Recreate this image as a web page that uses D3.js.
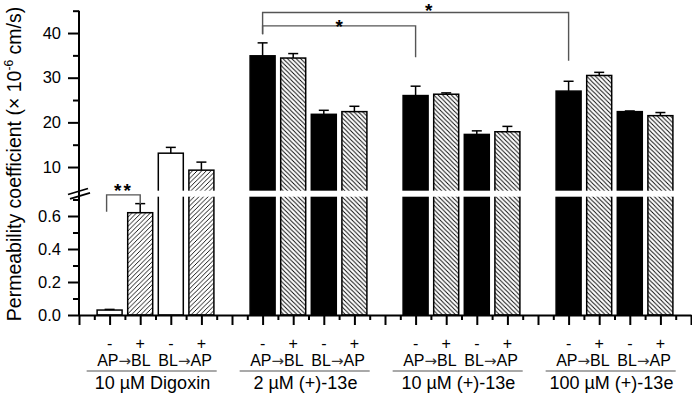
<!DOCTYPE html>
<html>
<head>
<meta charset="utf-8">
<script src="https://cdn.jsdelivr.net/npm/d3@7"></script>
<style>
  body { margin: 0; background: #fff; }
  svg { display: block; font-family: Arial, "Liberation Sans", sans-serif; }
</style>
</head>
<body>
<svg id="chart" width="692" height="398"></svg>
<script>
// data
const groups = ["10 µM Digoxin", "2 µM (+)-13e", "10 µM (+)-13e", "100 µM (+)-13e"];
const directions = [["AP", "BL"], ["BL", "AP"]];
const signs = ["-", "+"];
const values = [
  [0.03, 0.62, 13.1, 9.3],
  [34.9, 34.4, 21.8, 22.4],
  [26.0, 26.3, 17.3, 17.9],
  [27.0, 30.5, 22.4, 21.5]
];
const errors = [
  [0.004, 0.055, 1.3, 1.8],
  [2.9, 1.0, 0.9, 1.2],
  [2.1, 0.3, 0.8, 1.2],
  [2.2, 0.7, 0.15, 0.7]
];
const upperTicks = [10, 20, 30, 40];
const upperMinor = [15, 25, 35, 45];
const lowerTicks = [0, 0.2, 0.4, 0.6];
const lowerMinor = [0.1, 0.3, 0.5, 0.7];
// significance brackets: [group, bar] pairs, heights in data units
const sigs = [
  {a: [0, 0], b: [0, 1], label: "**", scale: "lower", level: 0.728, legA: 0.626, legB: 0.673, dx: 0, dy: 2},
  {a: [1, 0], b: [2, 0], label: "*", scale: "upper", level: 41.6, legA: 39.7, legB: 34.6, dx: 0, dy: 7},
  {a: [1, 0], b: [3, 0], label: "*", scale: "upper", level: 44.6, legA: 39.7, legB: 33.8, dx: 13, dy: 5}
];

const svg = d3.select("#chart");
const axisY = 315;
const x = d3.scaleLinear().domain([0, 20]).range([79, 691]);
const yU = d3.scaleLinear().domain([4.7, 45]).range([190.7, 10.7]);
const yL = d3.scaleLinear().domain([0, 0.717]).range([axisY, 196.7]);
const cut = 0.717;
const yv = v => v > cut ? yU(v) : yL(v);
const slot = (gi, j) => gi * 5 + j + 1;
const barW = 25;

// hatch patterns
const defs = svg.append("defs");
defs.append("pattern").attr("id", "fwd").attr("patternUnits", "userSpaceOnUse")
  .attr("width", 4.6).attr("height", 4.6)
  .append("path").attr("d", "M-1,1 l2,-2 M0,4.6 l4.6,-4.6 M3.6,5.6 l2,-2")
  .attr("stroke", "#000").attr("stroke-width", 0.9);
defs.append("pattern").attr("id", "bwd").attr("patternUnits", "userSpaceOnUse")
  .attr("width", 4.4).attr("height", 4.4)
  .append("path").attr("d", "M-1,3.4 l2,2 M0,0 l4.4,4.4 M3.4,-1 l2,2")
  .attr("stroke", "#000").attr("stroke-width", 0.9);

const bars = [];
values.forEach((row, gi) => row.forEach((v, j) => {
  const plus = j % 2 === 1;
  bars.push({
    gi, j, v, e: errors[gi][j], s: slot(gi, j),
    fill: plus ? (gi === 0 ? "url(#fwd)" : "url(#bwd)") : (gi === 0 ? "#fff" : "#000")
  });
}));

// bars
svg.append("g").selectAll("rect").data(bars).join("rect")
  .attr("x", d => x(d.s) - barW / 2)
  .attr("width", barW)
  .attr("y", d => yv(d.v))
  .attr("height", d => axisY - yv(d.v))
  .attr("fill", d => d.fill)
  .attr("stroke", "#000")
  .attr("stroke-width", 1.5);

// white gap across the break
svg.append("rect").attr("x", 84).attr("width", 608)
  .attr("y", yU.range()[0]).attr("height", yL.range()[1] - yU.range()[0])
  .attr("fill", "#fff");

// error bars
const eb = svg.append("g").attr("stroke", "#000").attr("stroke-width", 1.5);
bars.forEach(d => {
  const top = yv(d.v + d.e);
  eb.append("line").attr("x1", x(d.s)).attr("x2", x(d.s)).attr("y1", yv(d.v)).attr("y2", top);
  eb.append("line").attr("x1", x(d.s) - 5).attr("x2", x(d.s) + 5).attr("y1", top).attr("y2", top);
});

// x axis
const xa = svg.append("g").attr("transform", `translate(0,${axisY})`);
xa.call(d3.axisBottom(x).tickValues(d3.range(0, 21)).tickSize(10).tickSizeOuter(0).tickFormat(""));
xa.append("g").call(d3.axisBottom(x).tickValues(d3.range(0.5, 20, 1)).tickSize(5).tickFormat(""))
  .call(g => g.select(".domain").remove());
xa.selectAll("path, line").attr("stroke", "#000").attr("stroke-width", 2);

// y axis (two segments)
const ya = svg.append("g").attr("transform", `translate(${x(0)},0)`);
ya.append("line").attr("x1", 0).attr("x2", 0).attr("y1", yU(45)).attr("y2", axisY)
  .attr("stroke", "#000").attr("stroke-width", 2);
[[yU, upperTicks, upperMinor, d3.format("d")], [yL, lowerTicks, lowerMinor, d3.format(".1f")]]
  .forEach(([sc, maj, min, fmt]) => {
    ya.append("g").call(d3.axisLeft(sc).tickValues(maj).tickSize(11).tickPadding(7).tickFormat(fmt))
      .call(g => g.select(".domain").remove());
    ya.append("g").call(d3.axisLeft(sc).tickValues(min).tickSize(6).tickFormat(""))
      .call(g => g.select(".domain").remove());
  });
ya.selectAll("line").attr("stroke", "#000").attr("stroke-width", 2);
ya.selectAll("text").attr("font-size", 16.5).attr("fill", "#000")
  .attr("font-family", "Arial, 'Liberation Sans', sans-serif");

// break marks
const brk = svg.append("g").attr("stroke", "#000").attr("stroke-width", 1.8);
brk.append("line").attr("x1", x(0) - 11).attr("y1", 194.5).attr("x2", x(0) + 9).attr("y2", 188.5);
brk.append("line").attr("x1", x(0) - 9).attr("y1", 198.8).attr("x2", x(0) + 11).attr("y2", 192.8);

// significance brackets
const br = svg.append("g");
sigs.forEach(d => {
  const sc = d.scale === "lower" ? yL : yU;
  const xa1 = x(slot(...d.a)) - (d.scale === "lower" ? 3 : 0);
  const xb1 = x(slot(...d.b));
  br.append("path")
    .attr("d", `M${xa1},${sc(d.legA)}V${sc(d.level)}H${xb1}V${sc(d.legB)}`)
    .attr("fill", "none").attr("stroke", "#555").attr("stroke-width", 1.4);
  br.append("text")
    .attr("x", (xa1 + xb1) / 2 + d.dx)
    .attr("y", sc(d.level) + d.dy)
    .attr("text-anchor", "middle")
    .attr("font-size", 19).attr("font-weight", "bold")
    .attr("letter-spacing", d.label.length > 1 ? 2 : 0)
    .text(d.label);
});

// category labels
const lab = svg.append("g").attr("fill", "#000");
groups.forEach((gname, gi) => {
  [0, 1, 2, 3].forEach(j => {
    lab.append("text").attr("x", x(slot(gi, j))).attr("y", 349)
      .attr("text-anchor", "middle").attr("font-size", 16).text(signs[j % 2]);
  });
  directions.forEach(([from, to], k) => {
    const t = lab.append("text").attr("x", x(slot(gi, 2 * k) + 0.5) - 1).attr("y", 365.5)
      .attr("text-anchor", "middle").attr("font-size", 16);
    t.append("tspan").text(from);
    t.append("tspan").attr("font-family", "'DejaVu Sans', sans-serif")
      .attr("font-size", 15).attr("fill", "#333").text("→");
    t.append("tspan").text(to);
  });
  lab.append("line")
    .attr("x1", x(slot(gi, 0) - 0.75)).attr("x2", x(slot(gi, 3) + 0.5))
    .attr("y1", 371).attr("y2", 371)
    .attr("stroke", "#555").attr("stroke-width", 1.2);
  lab.append("text").attr("x", x(slot(gi, 0) + 1.4)).attr("y", 389)
    .attr("text-anchor", "middle").attr("font-size", 18).text(gname);
});

// y title
const yt = svg.append("text")
  .attr("transform", "translate(20.5,164) rotate(-90)")
  .attr("text-anchor", "middle")
  .attr("font-size", 19.5);
yt.append("tspan").text("Permeability coefficient (× 10");
yt.append("tspan").attr("font-size", 12).attr("dy", -8).text("-6");
yt.append("tspan").attr("dy", 8).text(" cm/s)");
</script>
</body>
</html>
